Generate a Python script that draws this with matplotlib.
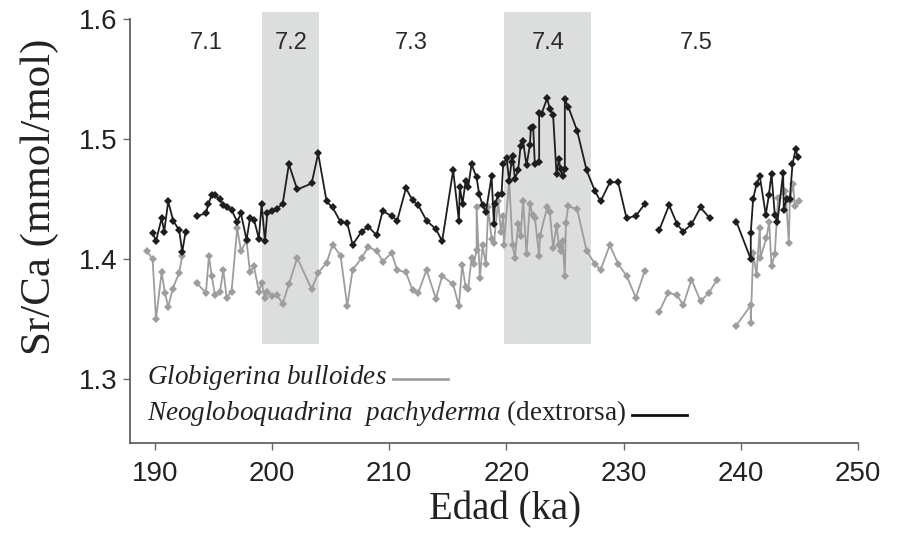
import numpy as np
import matplotlib
matplotlib.use("Agg")
import matplotlib.pyplot as plt
from matplotlib.lines import Line2D

nan = np.nan

# ---- data -------------------------------------------------------------
black_age = [189.80, 190.09, 190.57, 190.79, 191.13, 191.56, 192.07, 192.33, 192.62, nan,
             193.56, 194.35, 194.55, 194.84, 195.12, 195.55, 195.83, 196.12, 196.54, 197.02,
             197.34, 197.82, 198.11, 198.45, 198.87, 199.10, 199.39, 199.58, 199.96, 200.38,
             200.90, 201.43, 202.14, 203.37, 203.93, 204.65, 205.16, 205.84, 206.41, 206.87,
             207.64, 208.20, 208.92, 209.43, 210.20, 210.67, 211.42, 211.99, 212.47, 213.18,
             213.98, 214.51, 215.45, 215.94, 216.02, 216.25, 216.51, 216.73, 217.02, 217.45,
             217.67, 217.96, 218.24, 218.73, 218.93, 219.01, 219.29, 219.58, 219.72, 220.01,
             220.23, 220.43, 220.52, 220.72, 221.00, 221.20, 221.42, 221.71, 222.00, 222.08,
             222.28, 222.42, 222.79, 222.79, 222.99, 223.47, 223.70, 223.98, 224.27, 224.47,
             224.62, 224.79, 224.98, 224.98, 225.27, 226.03, 226.84, 227.54, 228.03, 228.82,
             229.53, 230.25, 231.04, 231.81, nan,
             233.03, 233.88, 234.57, 235.08, 235.79, 236.56, 237.36, nan,
             239.63, 240.85, 240.85, 241.05, 241.34, 241.62, 242.13, 242.39, 242.62, 242.90,
             243.13, 243.61, 243.67, 243.90, 244.18, 244.41, 244.69, 244.84]
black_srca = [1.422, 1.415, 1.434, 1.423, 1.448, 1.432, 1.424, 1.406, 1.423, nan,
              1.436, 1.438, 1.446, 1.453, 1.453, 1.450, 1.445, 1.443, 1.441, 1.431,
              1.438, 1.416, 1.434, 1.433, 1.417, 1.446, 1.415, 1.438, 1.440, 1.442,
              1.446, 1.479, 1.458, 1.463, 1.488, 1.448, 1.443, 1.431, 1.430, 1.412,
              1.423, 1.427, 1.420, 1.440, 1.436, 1.432, 1.459, 1.449, 1.445, 1.432,
              1.425, 1.415, 1.474, 1.432, 1.460, 1.446, 1.465, 1.460, 1.479, 1.468,
              1.454, 1.445, 1.439, 1.469, 1.429, 1.446, 1.453, 1.454, 1.479, 1.484,
              1.465, 1.481, 1.486, 1.467, 1.474, 1.494, 1.498, 1.478, 1.495, 1.509,
              1.510, 1.479, 1.481, 1.522, 1.521, 1.534, 1.525, 1.520, 1.471, 1.483,
              1.475, 1.469, 1.475, 1.533, 1.527, 1.507, 1.474, 1.457, 1.448, 1.464,
              1.464, 1.434, 1.436, 1.446, nan,
              1.424, 1.445, 1.429, 1.423, 1.429, 1.443, 1.434, nan,
              1.431, 1.400, 1.422, 1.450, 1.4625, 1.469, 1.437, 1.453, 1.471, 1.437,
              1.431, 1.472, 1.441, 1.450, 1.450, 1.479, 1.492, 1.485]

gray_age = [189.29, 189.80, 190.09, 190.57, 190.85, 191.13, 191.51, 192.07, 192.33, nan,
            193.56, 194.35, 194.61, 194.84, 195.12, 195.55, 195.83, 196.12, 196.54, 197.02,
            197.34, 197.82, 198.11, 198.45, 198.87, 199.10, 199.39, 199.58, 199.96, 200.38,
            200.90, 201.43, 202.14, 203.37, 203.93, 204.65, 205.16, 205.84, 206.41, 206.87,
            207.64, 208.20, 208.92, 209.43, 210.20, 210.67, 211.42, 211.99, 212.47, 213.18,
            213.98, 214.51, 215.45, 215.94, 216.22, 216.51, 216.73, 217.02, 217.22, 217.45,
            217.45, 217.73, 217.96, 218.24, 218.44, 218.73, 218.93, 219.29, 219.52, 219.72,
            219.78, 220.23, 220.52, 220.72, 221.00, 221.20, 221.42, 221.71, 222.00, 222.23,
            222.42, 222.79, 222.85, 223.47, 223.70, 223.98, 224.27, 224.47, 224.62, 224.79,
            224.98, 225.07, 225.27, 226.03, 226.84, 227.54, 228.03, 228.82, 229.53, 230.25,
            231.04, 231.81, nan,
            233.03, 233.80, 234.57, 235.08, 235.79, 236.56, 237.29, 237.93, nan,
            239.57, 240.85, 240.85, 241.05, 241.34, 241.62, 241.68, 242.19, 242.42, 242.62,
            242.90, 243.18, 243.81, 244.10, 244.18, 244.46, 244.61, 244.95]
gray_srca = [1.407, 1.400, 1.350, 1.389, 1.372, 1.360, 1.3755, 1.3885, 1.403, nan,
             1.380, 1.372, 1.403, 1.386, 1.370, 1.373, 1.391, 1.368, 1.373, 1.426,
             1.407, 1.415, 1.389, 1.394, 1.373, 1.380, 1.368, 1.373, 1.369, 1.3705,
             1.363, 1.379, 1.401, 1.375, 1.3885, 1.397, 1.412, 1.403, 1.361, 1.391,
             1.401, 1.410, 1.407, 1.398, 1.405, 1.391, 1.389, 1.374, 1.372, 1.391,
             1.367, 1.386, 1.379, 1.361, 1.395, 1.377, 1.375, 1.401, 1.3956, 1.408,
             1.4435, 1.384, 1.4115, 1.3956, 1.443, 1.4165, 1.4136, 1.4485, 1.423, 1.436,
             1.412, 1.465, 1.412, 1.401, 1.429, 1.419, 1.4485, 1.4044, 1.446, 1.437,
             1.4346, 1.4025, 1.419, 1.443, 1.439, 1.4095, 1.4276, 1.412, 1.407, 1.415,
             1.386, 1.430, 1.444, 1.4416, 1.407, 1.396, 1.391, 1.4117, 1.396, 1.386,
             1.368, 1.3905, nan,
             1.356, 1.372, 1.370, 1.3615, 1.383, 1.365, 1.372, 1.3824, nan,
             1.344, 1.3615, 1.347, 1.405, 1.387, 1.426, 1.401, 1.418, 1.431, 1.394,
             1.4044, 1.451, 1.457, 1.4136, 1.4485, 1.4625, 1.444, 1.4485]

stage_labels = ["7.1", "7.2", "7.3", "7.4", "7.5"]
stage_label_age = [194.35, 201.6, 211.85, 223.6, 236.2]
shaded_stages = [(199.15, 204.0), (219.8, 227.2)]
shade_bottom, shade_top = 1.329, 1.606

x_ticks = [190, 200, 210, 220, 230, 240, 250]
y_ticks = [1.3, 1.4, 1.5, 1.6]

# ---- figure -----------------------------------------------------------
plt.rcParams['mathtext.fontset'] = 'custom'
plt.rcParams['mathtext.it'] = 'Liberation Serif:italic'
plt.rcParams['mathtext.rm'] = 'Liberation Serif'

fig = plt.figure(figsize=(9.04, 5.35), dpi=100)
ax = fig.add_axes([0.1438, 0.1720, 0.8053, 0.8056])
ax.set_xlim(187.87, 250)
ax.set_ylim(1.2468, 1.6059)

for a0, a1 in shaded_stages:
    ax.fill_between([a0, a1], shade_bottom, shade_top, color='#dcdddd', lw=0, zorder=0)

gray_c = '#9d9d9d'
black_c = '#1e1e1e'
ax.plot(gray_age, gray_srca, color=gray_c, lw=1.3, marker='D', ms=3.8, mew=0,
        mfc=gray_c, zorder=2)
ax.plot(black_age, black_srca, color=black_c, lw=1.3, marker='D', ms=3.8, mew=0,
        mfc=black_c, zorder=3)

for lab, a in zip(stage_labels, stage_label_age):
    ax.text(a, 1.580, lab, ha='center', va='center', fontsize=17,
            family='Liberation Sans', color='#2a2a2a')

# spines/ticks
for s in ['top', 'right']:
    ax.spines[s].set_visible(False)
for s in ['left', 'bottom']:
    ax.spines[s].set_color('#555555')
    ax.spines[s].set_linewidth(1.2)
ax.spines['left'].set_bounds(1.2468, 1.6)
ax.set_xticks(x_ticks)
ax.set_yticks(y_ticks)
ax.set_yticklabels([f"{v:.1f}" for v in y_ticks])
ax.tick_params(axis='both', direction='out', length=5, width=1.0, color='#666666',
               labelsize=20, labelcolor='#222222')
ax.tick_params(axis='y', pad=4)
ax.tick_params(axis='x', pad=8)
for lbl in ax.get_xticklabels() + ax.get_yticklabels():
    lbl.set_family('Liberation Sans')

fig.text(40/904, 1-197/535, "Sr/Ca (mmol/mol)", rotation=90, ha='center', va='center',
         fontsize=31, family='Liberation Serif', color='#222222')
fig.text(505/904, 1-510/535, "Edad (ka)", ha='center', va='center',
         fontsize=28, family='Liberation Serif', color='#222222')

# legend-like annotations
t1 = fig.text(147/904, 1-377/535, r"$\mathit{Globigerina\ bulloides}$", ha='left',
              va='center', fontsize=19.5, color='#222222')
t2 = fig.text(147/904, 1-413/535,
              r"$\mathit{Neogloboquadrina}$  $\mathit{pachyderma}$ (dextrorsa)",
              ha='left', va='center', fontsize=19.5, family='Liberation Serif', color='#222222')
fig.canvas.draw()
r = fig.canvas.get_renderer()
for t, c in [(t1, '#a0a0a0'), (t2, '#111111')]:
    bb = t.get_window_extent(renderer=r)
    x0 = bb.x1 + 6
    yc = (bb.y0 + bb.y1) / 2 - 2
    fig.add_artist(Line2D([x0 / fig.bbox.width, (x0 + 55) / fig.bbox.width],
                          [yc / fig.bbox.height] * 2, color=c, lw=2.0,
                          transform=fig.transFigure))

fig.savefig("out.png", dpi=100)
